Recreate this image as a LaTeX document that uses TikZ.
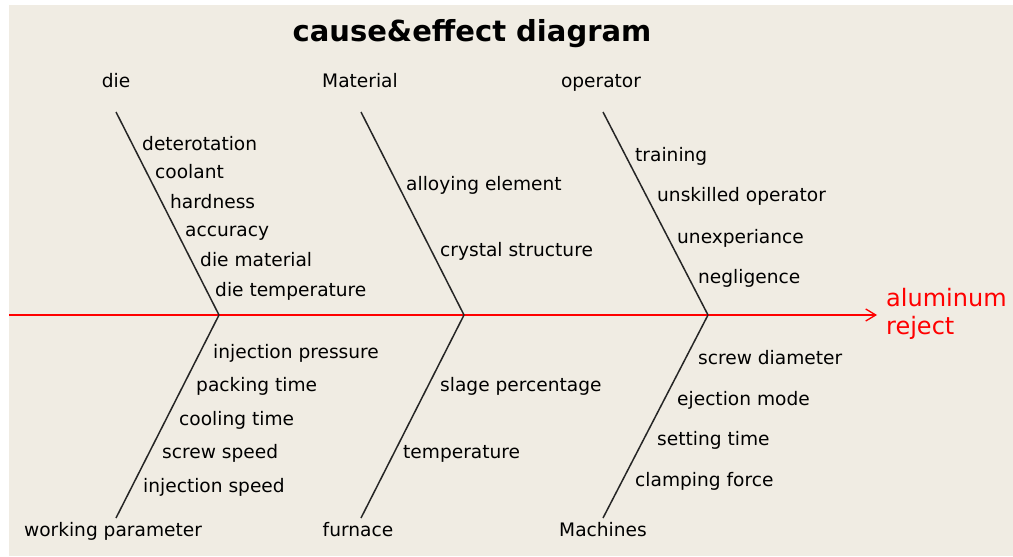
\documentclass[tikz,border=0pt]{standalone}
\usepackage{fontspec}
\setmainfont{DejaVu Sans}
\usetikzlibrary{arrows.meta}
\definecolor{paper}{RGB}{240,236,227}
\definecolor{effectred}{RGB}{255,0,0}
\tikzset{
  bone/.style={line width=1.5pt,black!85},
  cause/.style={anchor=base west,inner sep=0pt,font=\fontsize{18.6}{20}\selectfont},
  category/.style={anchor=base,inner sep=0pt,font=\fontsize{18.6}{20}\selectfont},
}
\begin{document}
\begin{tikzpicture}[x=1pt,y=-1pt]
			\useasboundingbox (0,0) rectangle (1013,557);
			\fill[white] (0,0) rectangle (1013,557);
			\fill[paper] (9,5) rectangle (1013,556);
			% title and effect
			\node[inner sep=0pt,font=\fontsize{29}{32}\bfseries] (title) at (472,34) {cause\&effect diagram};
			\node[anchor=west,inner sep=0pt,align=left,text=effectred,font=\fontsize{24}{28}\selectfont] (effect) at (886,314) {aluminum\\reject};
			% spine
			\coordinate (tail) at (9,315);
			\coordinate (head) at (877,315);
			\coordinate (j1) at (219,315);
			\coordinate (j2) at (464,315);
			\coordinate (j3) at (708,315);
			\draw[draw=effectred,line width=1.3pt,-{Straight Barb[length=10pt,width=12pt,line width=1.3pt]}] (tail) -- (head);
			% upper bones
			\coordinate (die) at (116,112);
			\coordinate (mat) at (361,112);
			\coordinate (ope) at (603,112);
			\draw[bone] (die) -- (j1);
			\draw[bone] (mat) -- (j2);
			\draw[bone] (ope) -- (j3);
			% lower bones
			\coordinate (wpa) at (116,518);
			\coordinate (fur) at (361,518);
			\coordinate (mac) at (603,518);
			\draw[bone] (wpa) -- (j1);
			\draw[bone] (fur) -- (j2);
			\draw[bone] (mac) -- (j3);
			% categories
			\node[category] (dielbl) at (116,87) {die};
			\node[category] (matlbl) at (360,87) {Material};
			\node[category] (opelbl) at (601,87) {operator};
			\node[category] (wpalbl) at (113,536) {working parameter};
			\node[category] (furlbl) at (358,536) {furnace};
			\node[category] (maclbl) at (603,536) {Machines};
			% causes: die
			\node[cause] (d1) at (142,150) {deterotation};
			\node[cause] (d2) at (155,178) {coolant};
			\node[cause] (d3) at (170,208) {hardness};
			\node[cause] (d4) at (185,236) {accuracy};
			\node[cause] (d5) at (200,266) {die material};
			\node[cause] (d6) at (215,296) {die temperature};
			% causes: Material
			\node[cause] (m1) at (406,190) {alloying element};
			\node[cause] (m2) at (440,256) {crystal structure};
			% causes: operator
			\node[cause] (o1) at (635,161) {training};
			\node[cause] (o2) at (657,201) {unskilled operator};
			\node[cause] (o3) at (677,243) {unexperiance};
			\node[cause] (o4) at (698,283) {negligence};
			% causes: working parameter
			\node[cause] (w1) at (213,358) {injection pressure};
			\node[cause] (w2) at (196,391) {packing time};
			\node[cause] (w3) at (179,425) {cooling time};
			\node[cause] (w4) at (162,458) {screw speed};
			\node[cause] (w5) at (143,492) {injection speed};
			% causes: furnace
			\node[cause] (f1) at (440,391) {slage percentage};
			\node[cause] (f2) at (403,458) {temperature};
			% causes: Machines
			\node[cause] (c1) at (698,364) {screw diameter};
			\node[cause] (c2) at (677,405) {ejection mode};
			\node[cause] (c3) at (657,445) {setting time};
			\node[cause] (c4) at (635,486) {clamping force};
\end{tikzpicture}
\end{document}
